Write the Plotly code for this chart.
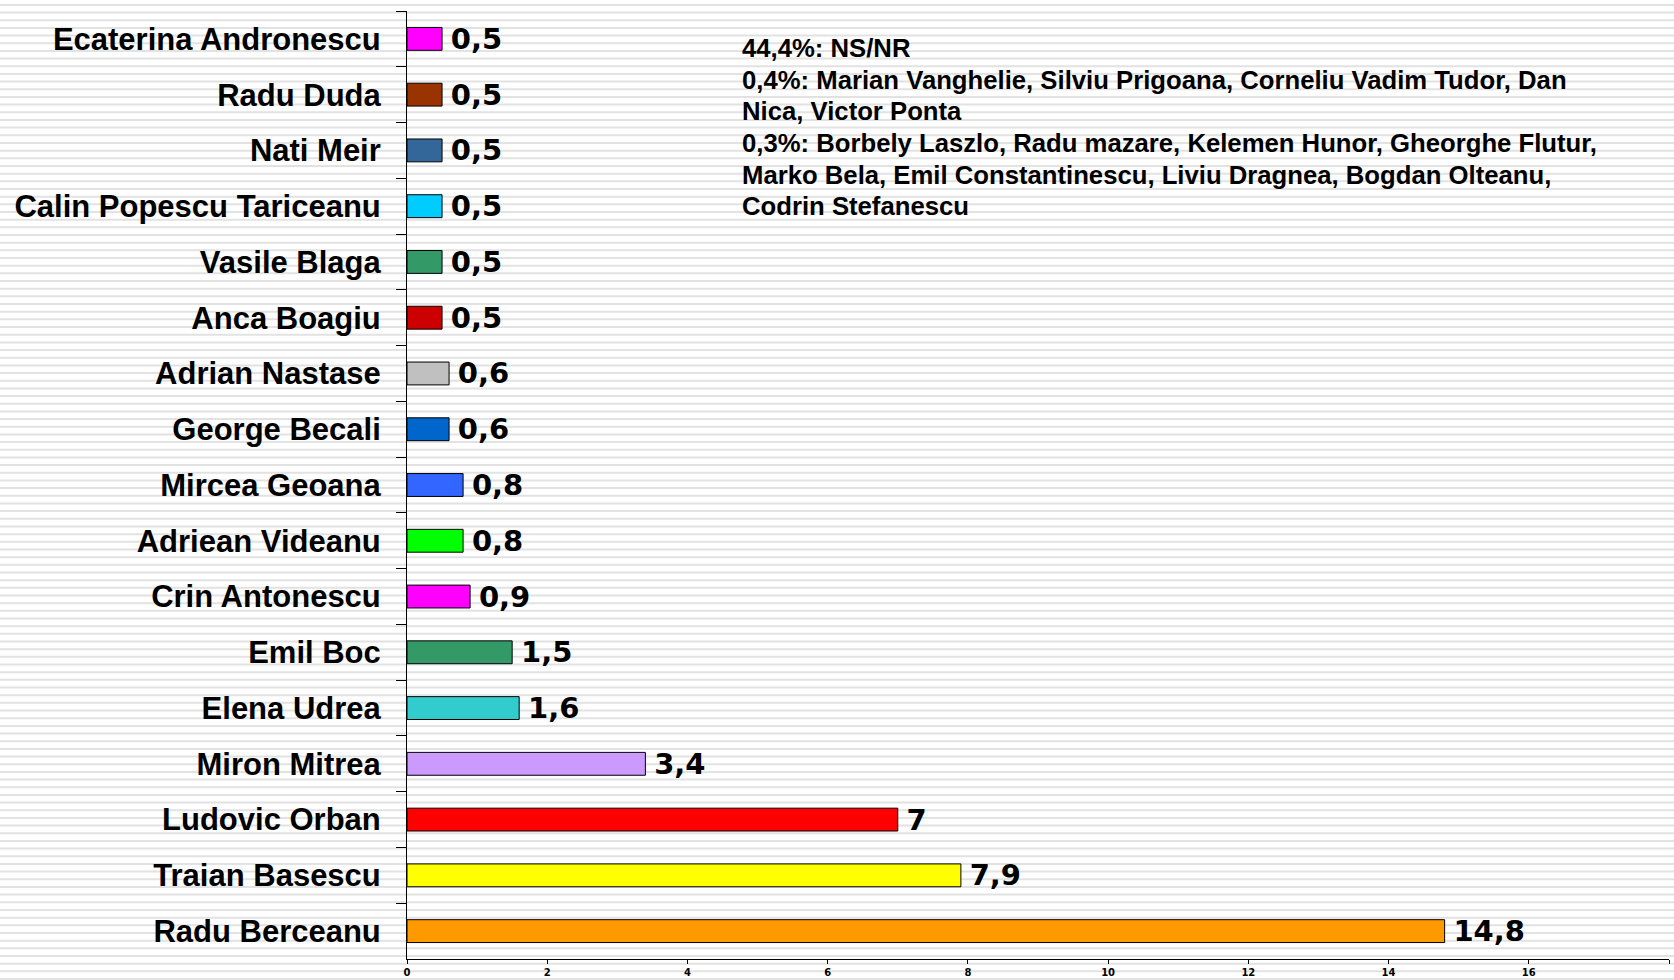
import plotly.graph_objects as go

names = ["Ecaterina Andronescu", "Radu Duda", "Nati Meir", "Calin Popescu Tariceanu",
         "Vasile Blaga", "Anca Boagiu", "Adrian Nastase", "George Becali",
         "Mircea Geoana", "Adriean Videanu", "Crin Antonescu", "Emil Boc",
         "Elena Udrea", "Miron Mitrea", "Ludovic Orban", "Traian Basescu", "Radu Berceanu"]
values = [0.5, 0.5, 0.5, 0.5, 0.5, 0.5, 0.6, 0.6, 0.8, 0.8, 0.9, 1.5, 1.6, 3.4, 7, 7.9, 14.8]
colors = ["#FF00FF", "#993300", "#336699", "#00CCFF", "#339966", "#CC0000", "#C0C0C0",
          "#0066CC", "#3366FF", "#00FF00", "#FF00FF", "#339966", "#33CCCC", "#CC99FF",
          "#FF0000", "#FFFF00", "#FF9900"]
x_ticks = [0, 2, 4, 6, 8, 10, 12, 14, 16, 18]
note_lines = ["44,4%: NS/NR",
              "0,4%: Marian Vanghelie, Silviu Prigoana, Corneliu Vadim Tudor, Dan",
              "Nica, Victor Ponta",
              "0,3%: Borbely Laszlo, Radu mazare, Kelemen Hunor, Gheorghe Flutur,",
              "Marko Bela, Emil Constantinescu, Liviu Dragnea, Bogdan Olteanu,",
              "Codrin Stefanescu"]

W, H = 1674, 980
ML, MR, MT, MB = 407, 5, 11, 21
PW, PH = W - ML - MR, H - MT - MB


def fmt(v):
    return "\u2009" + ("%g" % v).replace(".", ",")


def py(y_px):
    return (H - MB - y_px) / PH


fig = go.Figure(go.Bar(
    x=values, y=names, orientation="h",
    marker=dict(color=colors, line=dict(color="black", width=1)),
    width=0.41,
    text=[fmt(v) for v in values], textposition="outside",
    textfont=dict(family="DejaVu Sans", size=29, color="black", weight="bold"),
    constraintext="none", cliponaxis=False,
))

# striped background
shapes = []
y = 4.9
while y < H:
    shapes.append(dict(type="line", xref="paper", yref="paper",
                       x0=-ML / PW, x1=(PW + MR) / PW, y0=py(y), y1=py(y),
                       line=dict(color="#e2e2e2", width=2), layer="below"))
    y += 7.67

note_y = [48, 80, 111, 143, 175, 206]
annotations = [dict(xref="paper", yref="paper", x=(740 - ML) / PW, y=py(yy),
                    xanchor="left", yanchor="middle", align="left", showarrow=False,
                    text=t,
                    font=dict(family="Liberation Sans", size=25.7, color="black", weight="bold"))
               for t, yy in zip(note_lines, note_y)]

fig.update_layout(
    width=W, height=H, template="none",
    margin=dict(l=ML, r=MR, t=MT, b=MB, autoexpand=False),
    paper_bgcolor="white", plot_bgcolor="rgba(0,0,0,0)",
    showlegend=False, shapes=shapes, annotations=annotations,
    xaxis=dict(range=[0, 18], tickvals=x_ticks, ticktext=[str(t) for t in x_ticks],
               showgrid=False, zeroline=False, showline=True, linecolor="black",
               linewidth=1, ticks="outside", ticklen=4, tickcolor="black",
               tickfont=dict(family="DejaVu Sans", size=10, color="black", weight="bold"),
               automargin=False),
    yaxis=dict(range=[16.5, -0.5], type="category", showgrid=False, zeroline=False,
               showline=True, linecolor="black", linewidth=1, ticks="outside",
               tickson="boundaries", ticklen=10, tickcolor="black",
               tickfont=dict(family="Liberation Sans", size=31, color="black", weight="bold"),
               ticklabelstandoff=19, automargin=False),
)

fig.write_html("out.html", config={"displayModeBar": False},
               post_script="document.body.style.margin='0px';")
